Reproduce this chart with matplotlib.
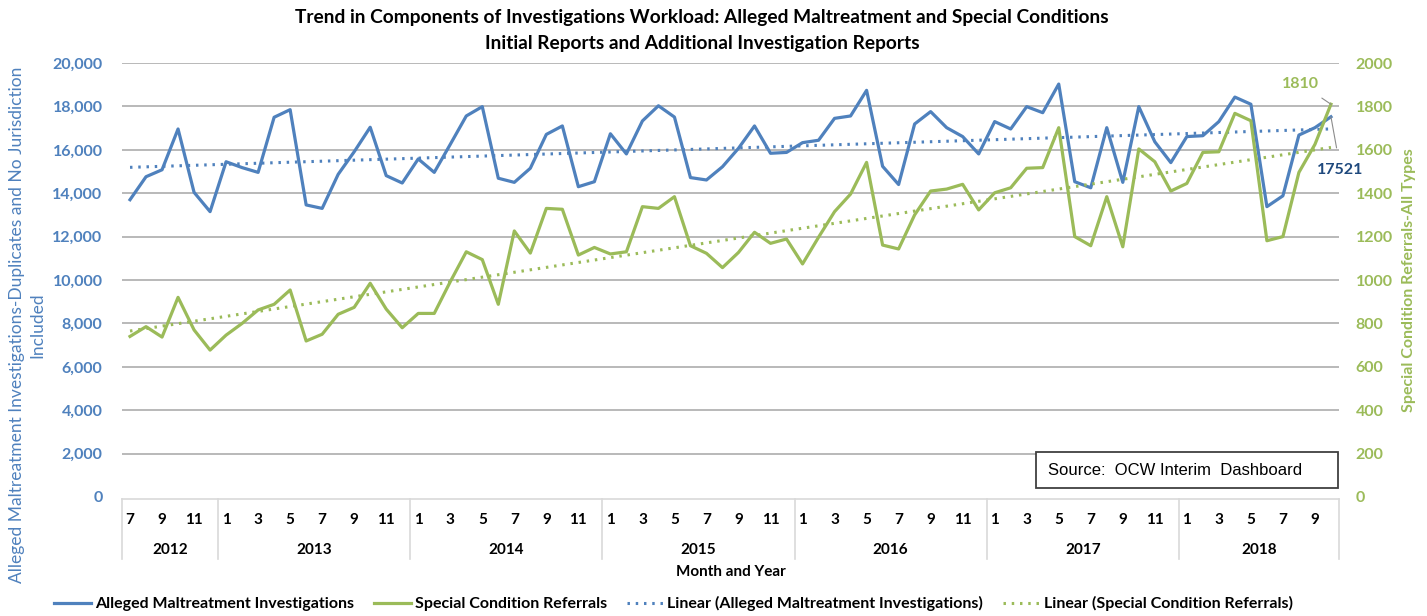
import matplotlib
matplotlib.use("Agg")
import matplotlib.pyplot as plt
import numpy as np
from matplotlib.lines import Line2D
from matplotlib.patches import Rectangle

plt.rcParams['font.family'] = ['Lato', 'DejaVu Sans']

# monthly categories Jul 2012 - Oct 2018
years = [2012, 2013, 2014, 2015, 2016, 2017, 2018]
year_months = {2012: list(range(7, 13)), 2018: list(range(1, 11))}
months = []
for y in years:
    months += year_months.get(y, list(range(1, 13)))

alleged = [13700, 14760, 15080, 16960, 14040, 13150,
           15450, 15180, 14960, 17500, 17850, 13460, 13300, 14870, 15910, 17040, 14810, 14470,
           15580, 14960, 16250, 17560, 17990, 14690, 14500, 15150, 16710, 17100, 14300, 14530,
           16740, 15810, 17330, 18030, 17510, 14720, 14610, 15220, 16070, 17100, 15840, 15880,
           16330, 16440, 17450, 17560, 18740, 15240, 14400, 17190, 17760, 17020, 16610, 15810,
           17300, 16960, 17990, 17710, 19030, 14530, 14250, 17020, 14500, 17990, 16370, 15410,
           16610, 16650, 17300, 18430, 18100, 13380, 13880, 16680, 17020, 17521]
special = [740, 785, 737, 920, 770, 677,
           746, 800, 862, 888, 954, 719, 750, 842, 874, 985, 866, 780,
           846, 846, 992, 1130, 1094, 888, 1226, 1124, 1330, 1326, 1115, 1150,
           1120, 1130, 1338, 1330, 1384, 1158, 1123, 1057, 1127, 1220, 1169, 1189,
           1074, 1197, 1315, 1396, 1542, 1161, 1143, 1300, 1410, 1419, 1441, 1323,
           1402, 1425, 1515, 1518, 1702, 1200, 1158, 1384, 1153, 1604, 1545, 1410,
           1445, 1588, 1591, 1768, 1734, 1181, 1200, 1496, 1625, 1810]

BLUE = '#4F81BD'
GREEN = '#9BBB59'
DARKBLUE = '#1F497D'
DOTS = (0, (0.8, 1.9))

x = np.arange(len(months))
fig = plt.figure(figsize=(14.27, 6.16), dpi=100)
ax = fig.add_axes([0.0855, 0.1932, 0.8528, 0.7045])
ax2 = ax.twinx()

ax.set_xlim(-0.5, len(months) - 0.5)
ax.set_ylim(0, 20000)
ax2.set_ylim(0, 2000)
ax.set_yticks(np.arange(0, 20001, 2000))
ax2.set_yticks(np.arange(0, 2001, 200))
ax.set_yticklabels([f'{v:,}' for v in range(0, 20001, 2000)])
for v in range(2000, 20001, 2000):
    ax.axhline(v, color='#A6A6A6', lw=1.1, zorder=0)

for a in (ax, ax2):
    for s in a.spines.values():
        s.set_visible(False)
    a.set_xticks([])
ax.tick_params(axis='y', length=0, pad=14, labelsize=11.5, labelcolor=BLUE)
ax2.tick_params(axis='y', length=0, pad=12, labelsize=11.5, labelcolor=GREEN)
for t in ax.get_yticklabels() + ax2.get_yticklabels():
    t.set_fontweight('bold')

# data + linear trends
ax.plot(x, alleged, color=BLUE, lw=2.3, zorder=3)
ax2.plot(x, special, color=GREEN, lw=2.3, zorder=3)
pa = np.polyfit(x, alleged, 1)
ps = np.polyfit(x, special, 1)
ax.plot(x, np.polyval(pa, x), color=BLUE, lw=2.2, ls=DOTS, zorder=2)
ax2.plot(x, np.polyval(ps, x), color=GREEN, lw=2.2, ls=DOTS, zorder=2)

# end-point data labels
ax2.annotate(f'{special[-1]}', xy=(x[-1], special[-1]), xytext=(x[-1] - 1.9, special[-1] + 95),
             color=GREEN, fontsize=11.5, fontweight='bold', ha='center', va='center',
             arrowprops=dict(arrowstyle='-', color='#8C8C8C', lw=0.8, shrinkA=6, shrinkB=0))
ax.annotate(f'{alleged[-1]}', xy=(x[-1], alleged[-1]), xytext=(x[-1] + 0.6, 15070),
            color=DARKBLUE, fontsize=11.5, fontweight='bold', ha='center', va='center',
            annotation_clip=False,
            arrowprops=dict(arrowstyle='-', color='#8C8C8C', lw=0.8, shrinkA=9, shrinkB=0))

# category table under the plot
tr = ax.get_xaxis_transform()
line_kw = dict(color='#D9D9D9', lw=1.2, transform=tr, clip_on=False)
ax.add_line(Line2D([-0.5, len(months) - 0.5], [-0.005, -0.005], **line_kw))
start = 0
bounds = [-0.5]
for y in years:
    n = len(year_months.get(y, list(range(1, 13))))
    ax.text(start + (n - 1) / 2, -0.122, str(y), transform=tr, ha='center', va='center',
            fontsize=11, fontweight='bold')
    start += n
    bounds.append(start - 0.5)
for b in bounds:
    ax.add_line(Line2D([b, b], [-0.005, -0.143], **line_kw))
for i, m in enumerate(months):
    if i % 2 == 0:
        ax.text(i, -0.053, str(m), transform=tr, ha='center', va='center',
                fontsize=11, fontweight='bold')

ax.text(0.5, -0.173, 'Month and Year', transform=ax.transAxes, ha='center', va='center',
        fontsize=11, fontweight='bold')

fig.text(0.019, 0.472, 'Alleged Maltreatment Investigations-Duplicates and No Jurisdiction\nIncluded',
         color=BLUE, fontsize=12.5, rotation=90, ha='center', va='center', multialignment='center',
         linespacing=1.3)
ax2.set_ylabel('Special Condition Referrals-All Types', color=GREEN, fontsize=11.5,
               fontweight='bold', labelpad=7)

fig.text(0.492, 0.971, 'Trend in Components of Investigations Workload: Alleged Maltreatment and Special Conditions',
         ha='center', va='center', fontsize=13.8, fontweight='bold')
fig.text(0.492, 0.929, 'Initial Reports and Additional Investigation Reports',
         ha='center', va='center', fontsize=13.8, fontweight='bold')

# source box
ax.add_patch(Rectangle((0.751, 0.0207), 0.248, 0.083, transform=ax.transAxes, fc='white',
                       ec='#404040', lw=1.3, zorder=5, clip_on=False))
ax.text(0.761, 0.062, 'Source:  OCW Interim  Dashboard', transform=ax.transAxes,
        family='Liberation Sans', fontsize=12, ha='left', va='center', zorder=6)

handles = [Line2D([], [], color=BLUE, lw=2.3),
           Line2D([], [], color=GREEN, lw=2.3),
           Line2D([], [], color=BLUE, lw=2.2, ls=DOTS),
           Line2D([], [], color=GREEN, lw=2.2, ls=DOTS)]
labels = ['Alleged Maltreatment Investigations', 'Special Condition Referrals',
          'Linear (Alleged Maltreatment Investigations)', 'Linear (Special Condition Referrals)']
leg = fig.legend(handles, labels, loc='center', bbox_to_anchor=(0.472, 0.02), ncol=4,
                 frameon=False, handlelength=2.3, columnspacing=1.25, handletextpad=0.25,
                 prop=dict(size=11.5, weight='bold'))

fig.savefig('out.png', dpi=100)
